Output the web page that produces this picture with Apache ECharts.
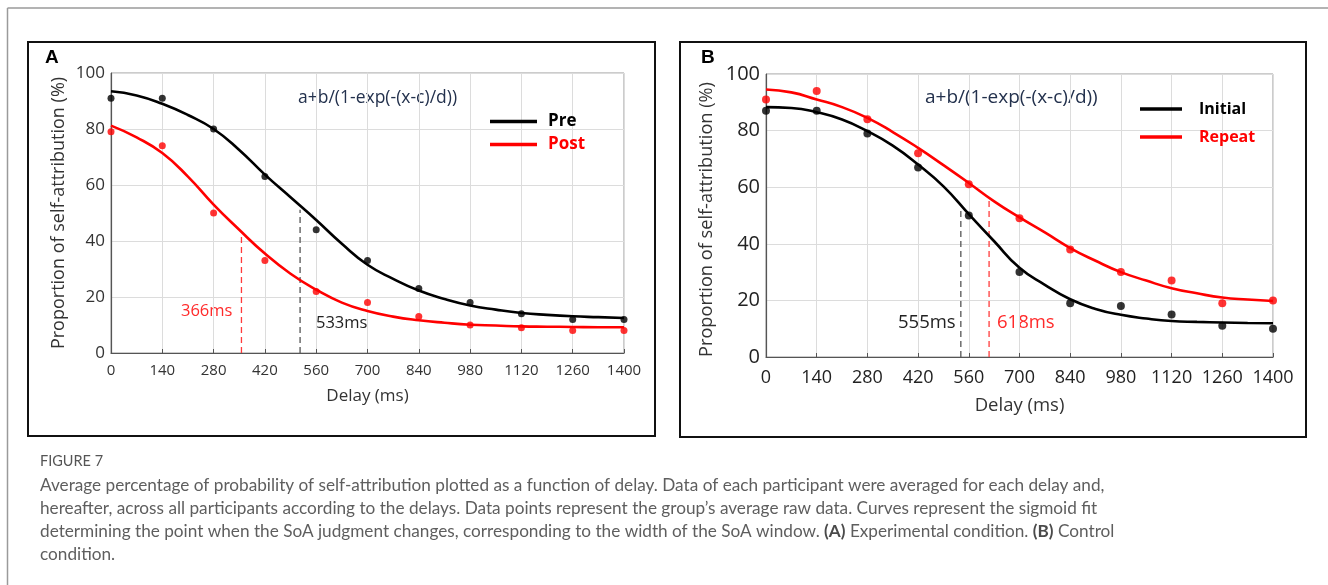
<!DOCTYPE html>
<html>
<head>
<meta charset="utf-8">
<script src="https://cdn.jsdelivr.net/npm/echarts@6/dist/echarts.min.js"></script>
<style>
html,body{margin:0;padding:0;background:#fff;}
#chart{width:1328px;height:585px;}
</style>
</head>
<body>
<div id="chart"></div>
<script>
// ---------- data ----------
const delays = [0, 140, 280, 420, 560, 700, 840, 980, 1120, 1260, 1400];
const xTicks = [0, 140, 280, 420, 560, 700, 840, 980, 1120, 1260, 1400];
const yTicks = [0, 20, 40, 60, 80, 100];

// Panel A raw averages
const preRaw  = [91, 91, 80, 63, 44, 33, 23, 18, 14, 12, 12];
const postRaw = [79, 74, 50, 33, 22, 18, 13, 10, 9, 8, 8];
// Panel B raw averages
const initialRaw = [87, 87, 79, 67, 50, 30, 19, 18, 15, 11, 10];
const repeatRaw  = [91, 94, 84, 72, 61, 49, 38, 30, 27, 19, 20];

// Fitted curves, every 70 ms
const fitX = [0, 70, 140, 210, 280, 350, 420, 490, 560, 630, 700, 770, 840, 910, 980, 1050, 1120, 1190, 1260, 1330, 1400];
const preFit     = [93.5, 92, 89, 85, 80, 72.5, 63.7, 55.6, 47.5, 39, 31.5, 26.5, 22.3, 19.3, 17, 15.5, 14.3, 13.6, 13.1, 12.8, 12.5];
const postFit    = [81.2, 77, 71.4, 63, 53, 44, 35.5, 28.3, 22.6, 18, 15, 13, 11.7, 10.8, 10.1, 9.8, 9.5, 9.4, 9.3, 9.2, 9.2];
const initialFit = [88.3, 88, 86.5, 83.9, 79.8, 74.7, 68, 60.3, 50.5, 40.9, 31.5, 25.5, 20.4, 17, 14.9, 13.6, 12.7, 12.4, 12.2, 12, 11.9];
const repeatFit  = [94.5, 93.5, 91, 88.3, 84.5, 79.5, 73.9, 67.8, 61.5, 55, 49.3, 44, 38.5, 34, 30, 27, 24.3, 22.5, 21, 20.3, 19.8];

// Threshold markers (x drawn position, top of dashed line)
const threshPre     = [516, 51.2];
const threshPost    = [356, 43];
const threshInitial = [538, 52];
const threshRepeat  = [616, 56];

const labelsA = ['Pre', 'Post'];
const labelsB = ['Initial', 'Repeat'];
const formulaText = 'a+b/(1-exp(-(x-c)/d))';
const yName = 'Proportion of self-attribution (%)';
const xName = 'Delay (ms)';

// ---------- helpers ----------
const pair = (xs, ys) => xs.map((x, i) => [x, ys[i]]);
const vline = (t) => [[t[0], 0], [t[0], t[1]]];
const FONT = 'Open Sans';
const RED = '#ff0000';

function xAxisCfg(gi, fs, col, gap, nfs, ngap) {
  return {
    type: 'value', gridIndex: gi, min: 0, max: 1400, interval: 140,
    axisLine: {show: true, onZero: false, lineStyle: {color: '#555', width: 1.2}},
    axisTick: {show: true, inside: true, length: 4, lineStyle: {color: '#555'}},
    axisLabel: {fontFamily: FONT, fontSize: fs, color: col, margin: gap, formatter: (v) => String(v)},
    splitLine: {show: true, lineStyle: {color: '#dcdcdc', width: 1}},
    name: xName, nameLocation: 'middle', nameGap: ngap,
    nameTextStyle: {fontFamily: FONT, fontSize: nfs, color: '#333'}
  };
}
function yAxisCfg(gi, fs, col, ngap, nfs, npad) {
  return {
    type: 'value', gridIndex: gi, min: 0, max: 100, interval: 20,
    axisLine: {show: true, lineStyle: {color: '#555', width: 1.2}},
    axisTick: {show: false},
    axisLabel: {fontFamily: FONT, fontSize: fs, color: col, margin: 6, formatter: (v) => String(v)},
    splitLine: {show: true, lineStyle: {color: '#dcdcdc', width: 1}},
    name: yName, nameLocation: 'middle', nameGap: ngap, nameRotate: 90,
    nameTextStyle: {fontFamily: FONT, fontSize: nfs, color: '#333', padding: npad}
  };
}
function fitSeries(name, gi, ys, color) {
  return {name: name, type: 'line', xAxisIndex: gi, yAxisIndex: gi, data: pair(fitX, ys),
    smooth: 0.5, showSymbol: false, symbol: 'none',
    lineStyle: {color: color, width: 2.6}, itemStyle: {color: color}, z: 3};
}
function rawSeries(name, gi, ys, color, size) {
  return {name: name, type: 'scatter', xAxisIndex: gi, yAxisIndex: gi, data: pair(delays, ys),
    symbol: 'circle', symbolSize: size, itemStyle: {color: color}, clip: false, z: 4};
}
function dashSeries(name, gi, t, color) {
  return {name: name, type: 'line', xAxisIndex: gi, yAxisIndex: gi, data: vline(t),
    showSymbol: false, symbol: 'none', lineStyle: {color: color, width: 1.3, type: [6, 4]}, z: 2};
}

const chart = echarts.init(document.getElementById('chart'), null, {renderer: 'canvas'});

const capFont = '17.2px "Lato"';
const option = {
  backgroundColor: '#ffffff',
  animation: false,
  grid: [
    {left: 111, top: 73, width: 513, height: 280, show: true, borderColor: '#999', borderWidth: 1, backgroundColor: 'transparent'},
    {left: 766, top: 74, width: 507, height: 283, show: true, borderColor: '#999', borderWidth: 1, backgroundColor: 'transparent'}
  ],
  xAxis: [xAxisCfg(0, 15, '#333', 10, 17, 35), xAxisCfg(1, 18, '#222', 12, 18.5, 39)],
  yAxis: [yAxisCfg(0, 17, '#333', 43, 18, 0), yAxisCfg(1, 20, '#222', 50, 18.2, [0, 8, 0, 0])],
  legend: [
    {orient: 'vertical', left: 485, top: 108, icon: 'rect', itemWidth: 47, itemHeight: 3.5, itemGap: 6,
     data: [{name: labelsA[0], textStyle: {color: '#000'}}, {name: labelsA[1], textStyle: {color: RED}}],
     textStyle: {fontFamily: FONT, fontSize: 17, fontWeight: 'bold', padding: [2, 0, 0, 6]}},
    {orient: 'vertical', left: 1135, top: 96, icon: 'rect', itemWidth: 42, itemHeight: 3.5, itemGap: 12,
     data: [{name: labelsB[0], textStyle: {color: '#000'}}, {name: labelsB[1], textStyle: {color: RED}}],
     textStyle: {fontFamily: FONT, fontSize: 16, fontWeight: 'bold', padding: [4, 0, 0, 12]}}
  ],
  series: [
    dashSeries('preT', 0, threshPre, '#555'),
    dashSeries('postT', 0, threshPost, '#ff3b3b'),
    fitSeries(labelsA[0], 0, preFit, '#000'),
    fitSeries(labelsA[1], 0, postFit, RED),
    rawSeries('Pre data', 0, preRaw, '#000', 7),
    rawSeries('Post data', 0, postRaw, RED, 7),
    dashSeries('initT', 1, threshInitial, '#555'),
    dashSeries('repT', 1, threshRepeat, '#ff3b3b'),
    fitSeries(labelsB[0], 1, initialFit, '#000'),
    fitSeries(labelsB[1], 1, repeatFit, RED),
    rawSeries('Initial data', 1, initialRaw, '#000', 8),
    rawSeries('Repeat data', 1, repeatRaw, RED, 8)
  ],
  graphic: [
    // outer figure frame
    {type: 'line', shape: {x1: 7.5, y1: 8, x2: 1328, y2: 8}, style: {stroke: '#9a9a9a', lineWidth: 1.5}, silent: true},
    {type: 'line', shape: {x1: 7.5, y1: 8, x2: 7.5, y2: 585}, style: {stroke: '#9a9a9a', lineWidth: 1.5}, silent: true},
    // panel frames
    {type: 'rect', shape: {x: 28, y: 42, width: 627, height: 394}, style: {fill: 'none', stroke: '#111', lineWidth: 2}, silent: true, z: -1},
    {type: 'rect', shape: {x: 680, y: 42, width: 626, height: 395}, style: {fill: 'none', stroke: '#111', lineWidth: 2}, silent: true, z: -1},
    // panel letters
    {type: 'text', left: 45, top: 48, style: {text: 'A', font: 'bold 19px "Liberation Sans"', fill: '#000'}},
    {type: 'text', left: 701, top: 48, style: {text: 'B', font: 'bold 19px "Liberation Sans"', fill: '#000'}},
    // formula
    {type: 'text', left: 298, top: 89, style: {text: formulaText, font: '17.5px "Open Sans"', fill: '#23314d'}},
    {type: 'text', left: 925, top: 88, style: {text: formulaText, font: '19px "Open Sans"', fill: '#23314d'}},
    // threshold labels
    {type: 'text', left: 181, top: 303, style: {text: '366ms', font: '16.5px "Open Sans"', fill: '#ff2a2a'}},
    {type: 'text', left: 316, top: 315, style: {text: '533ms', font: '16.5px "Open Sans"', fill: '#222'}},
    {type: 'text', left: 898, top: 313, style: {text: '555ms', font: '18.5px "Open Sans"', fill: '#222'}},
    {type: 'text', left: 997, top: 313, style: {text: '618ms', font: '18.5px "Open Sans"', fill: '#ff2a2a'}},
    // caption
    {type: 'text', left: 40, top: 454, style: {text: 'FIGURE 7', font: '14.5px "Lato"', fill: '#555'}},
    {type: 'text', left: 40, top: 477, style: {text: 'Average percentage of probability of self-attribution plotted as a function of delay. Data of each participant were averaged for each delay and,', font: capFont, fill: '#5e5e5e'}},
    {type: 'text', left: 40, top: 500, style: {text: 'hereafter, across all participants according to the delays. Data points represent the group\u2019s average raw data. Curves represent the sigmoid fit', font: capFont, fill: '#5e5e5e'}},
    {type: 'text', left: 40, top: 523, style: {text: 'determining the point when the SoA judgment changes, corresponding to the width of the SoA window. {b|(A)} Experimental condition. {b|(B)} Control', font: capFont, fill: '#5e5e5e', rich: {b: {font: 'bold 17.2px "Lato"', fill: '#4a4a4a'}}}},
    {type: 'text', left: 40, top: 546, style: {text: 'condition.', font: capFont, fill: '#5e5e5e'}}
  ]
};
chart.setOption(option);
</script>
</body>
</html>
